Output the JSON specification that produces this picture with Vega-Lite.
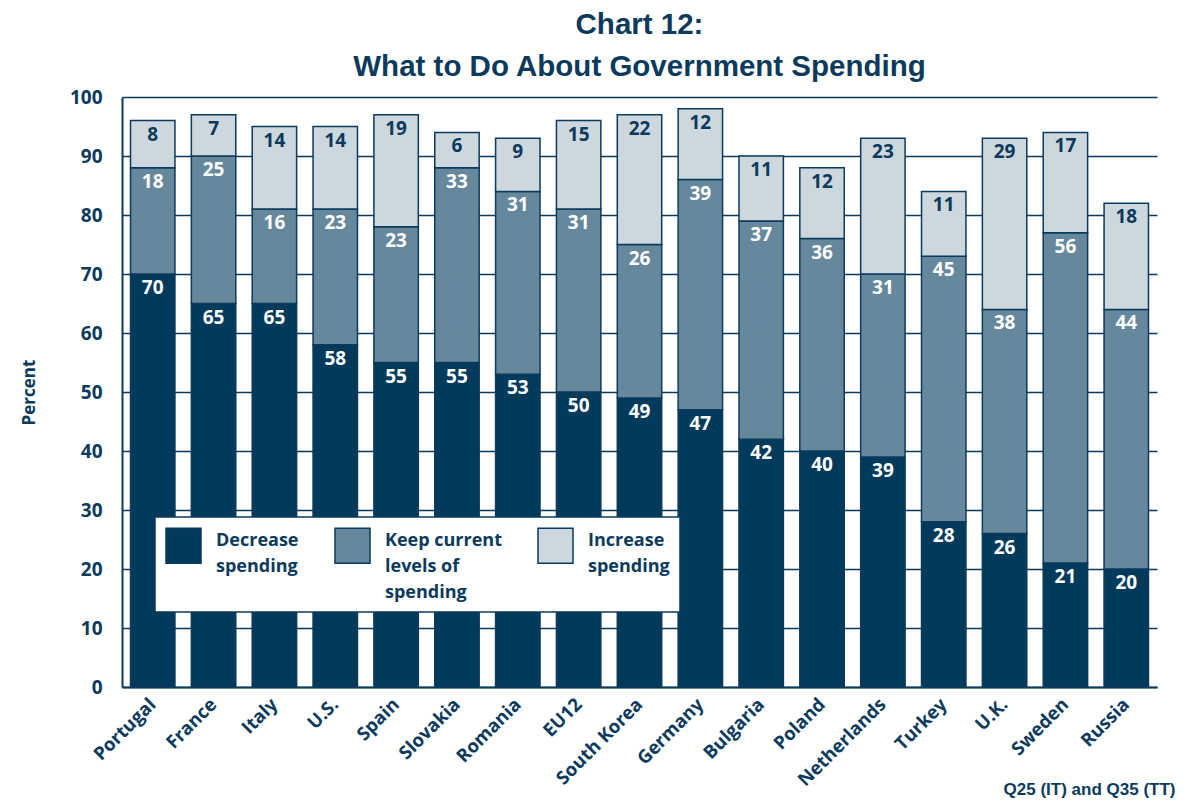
{
  "$schema": "https://vega.github.io/schema/vega-lite/v6.json",
  "autosize": {"type": "none"},
  "width": 1035,
  "height": 590,
  "padding": {"left": 122, "top": 97, "right": 31, "bottom": 121},
  "background": "white",
  "title": {
    "text": ["Chart 12:", "What to Do About Government Spending"],
    "font": "Liberation Sans",
    "fontSize": 29.5,
    "fontWeight": "bold",
    "color": "#0b3a5c",
    "lineHeight": 42,
    "anchor": "middle",
    "offset": 6
  },
  "data": {
    "values": [
      {"country": "Portugal", "response": "Decrease spending", "value": 70},
      {"country": "Portugal", "response": "Keep current levels of spending", "value": 18},
      {"country": "Portugal", "response": "Increase spending", "value": 8},
      {"country": "France", "response": "Decrease spending", "value": 65},
      {"country": "France", "response": "Keep current levels of spending", "value": 25},
      {"country": "France", "response": "Increase spending", "value": 7},
      {"country": "Italy", "response": "Decrease spending", "value": 65},
      {"country": "Italy", "response": "Keep current levels of spending", "value": 16},
      {"country": "Italy", "response": "Increase spending", "value": 14},
      {"country": "U.S.", "response": "Decrease spending", "value": 58},
      {"country": "U.S.", "response": "Keep current levels of spending", "value": 23},
      {"country": "U.S.", "response": "Increase spending", "value": 14},
      {"country": "Spain", "response": "Decrease spending", "value": 55},
      {"country": "Spain", "response": "Keep current levels of spending", "value": 23},
      {"country": "Spain", "response": "Increase spending", "value": 19},
      {"country": "Slovakia", "response": "Decrease spending", "value": 55},
      {"country": "Slovakia", "response": "Keep current levels of spending", "value": 33},
      {"country": "Slovakia", "response": "Increase spending", "value": 6},
      {"country": "Romania", "response": "Decrease spending", "value": 53},
      {"country": "Romania", "response": "Keep current levels of spending", "value": 31},
      {"country": "Romania", "response": "Increase spending", "value": 9},
      {"country": "EU12", "response": "Decrease spending", "value": 50},
      {"country": "EU12", "response": "Keep current levels of spending", "value": 31},
      {"country": "EU12", "response": "Increase spending", "value": 15},
      {"country": "South Korea", "response": "Decrease spending", "value": 49},
      {"country": "South Korea", "response": "Keep current levels of spending", "value": 26},
      {"country": "South Korea", "response": "Increase spending", "value": 22},
      {"country": "Germany", "response": "Decrease spending", "value": 47},
      {"country": "Germany", "response": "Keep current levels of spending", "value": 39},
      {"country": "Germany", "response": "Increase spending", "value": 12},
      {"country": "Bulgaria", "response": "Decrease spending", "value": 42},
      {"country": "Bulgaria", "response": "Keep current levels of spending", "value": 37},
      {"country": "Bulgaria", "response": "Increase spending", "value": 11},
      {"country": "Poland", "response": "Decrease spending", "value": 40},
      {"country": "Poland", "response": "Keep current levels of spending", "value": 36},
      {"country": "Poland", "response": "Increase spending", "value": 12},
      {"country": "Netherlands", "response": "Decrease spending", "value": 39},
      {"country": "Netherlands", "response": "Keep current levels of spending", "value": 31},
      {"country": "Netherlands", "response": "Increase spending", "value": 23},
      {"country": "Turkey", "response": "Decrease spending", "value": 28},
      {"country": "Turkey", "response": "Keep current levels of spending", "value": 45},
      {"country": "Turkey", "response": "Increase spending", "value": 11},
      {"country": "U.K.", "response": "Decrease spending", "value": 26},
      {"country": "U.K.", "response": "Keep current levels of spending", "value": 38},
      {"country": "U.K.", "response": "Increase spending", "value": 29},
      {"country": "Sweden", "response": "Decrease spending", "value": 21},
      {"country": "Sweden", "response": "Keep current levels of spending", "value": 56},
      {"country": "Sweden", "response": "Increase spending", "value": 17},
      {"country": "Russia", "response": "Decrease spending", "value": 20},
      {"country": "Russia", "response": "Keep current levels of spending", "value": 44},
      {"country": "Russia", "response": "Increase spending", "value": 18}
    ]
  },
  "transform": [
    {"calculate": "indexof(['Decrease spending','Keep current levels of spending','Increase spending'], datum.response)", "as": "rank"},
    {"stack": "value", "groupby": ["country"], "sort": [{"field": "rank", "order": "ascending"}], "as": ["y0", "y1"]}
  ],
  "encoding": {
    "x": {
      "field": "country",
      "type": "nominal",
      "sort": null,
      "scale": {"paddingInner": 0.27, "paddingOuter": 0.14},
      "axis": {
        "title": "Q25 (IT) and Q35 (TT)",
        "titleFont": "Liberation Sans",
        "titleFontSize": 17,
        "titleFontWeight": "bold",
        "titleColor": "#0b3a5c",
        "titleAnchor": "end",
        "titleAlign": "right",
        "titleBaseline": "alphabetic",
        "titleX": 1053,
        "titleY": 107,
        "labelAngle": -45,
        "labelAlign": "right",
        "labelBaseline": "middle",
        "labelFont": "Open Sans",
        "labelFontSize": 18.5,
        "labelFontWeight": "bold",
        "labelColor": "#0b3a5c",
        "labelPadding": 14,
        "ticks": false,
        "domainColor": "#0b3a5c",
        "domainWidth": 2,
        "grid": false
      }
    }
  },
  "layer": [
    {
      "mark": {"type": "bar", "stroke": "#0b3a5c", "strokeWidth": 1.5},
      "encoding": {
        "y": {
          "field": "y1",
          "type": "quantitative",
          "scale": {"domain": [0, 100], "nice": false},
          "axis": {
            "title": "Percent",
            "titleFont": "Open Sans",
            "titleFontSize": 17,
            "titleFontWeight": "bold",
            "titleColor": "#0b3a5c",
            "titlePadding": 30,
            "titleX": -84,
            "values": [0, 10, 20, 30, 40, 50, 60, 70, 80, 90, 100],
            "labelFont": "Open Sans",
            "labelFontSize": 19,
            "labelFontWeight": "bold",
            "labelColor": "#0b3a5c",
            "labelPadding": 20,
            "ticks": false,
            "domainColor": "#0b3a5c",
            "domainWidth": 2,
            "grid": true,
            "gridColor": "#0b3a5c",
            "gridWidth": 1.5,
            "gridOpacity": 1
          }
        },
        "y2": {"field": "y0"},
        "color": {
          "field": "response",
          "type": "nominal",
          "scale": {
            "domain": ["Decrease spending", "Keep current levels of spending", "Increase spending"],
            "range": ["#023a5b", "#66889d", "#cdd7de"]
          },
          "legend": {
            "orient": "none",
            "legendX": 33,
            "legendY": 420,
            "direction": "horizontal",
            "columns": 3,
            "title": null,
            "fillColor": "white",
            "strokeColor": "#0b3a5c",
            "padding": 10,
            "symbolType": "square",
            "symbolSize": 1225,
            "symbolStrokeColor": "#0b3a5c",
            "symbolStrokeWidth": 1.5,
            "symbolOpacity": 1,
            "labelFont": "Open Sans",
            "labelFontSize": 18,
            "labelFontWeight": "bold",
            "labelColor": "#0b3a5c",
            "labelBaseline": "alphabetic",
            "labelLimit": 200,
            "labelOffset": 14,
            "columnPadding": 33,
            "labelExpr": "datum.label == 'Decrease spending' ? ['Decrease', 'spending', ' '] : datum.label == 'Increase spending' ? ['Increase', 'spending', ' '] : ['Keep current', 'levels of', 'spending']",
            "encode": {
              "legend": {"update": {"strokeWidth": {"value": 1.5}}},
              "labels": {"update": {"lineHeight": {"value": 26}}}
            }
          }
        }
      }
    },
    {
      "mark": {"type": "text", "font": "Open Sans", "fontSize": 19, "fontWeight": "bold", "baseline": "middle", "dy": 14},
      "encoding": {
        "y": {"field": "y1", "type": "quantitative"},
        "text": {"field": "value", "type": "quantitative"},
        "color": {
          "condition": {"test": "datum.response == 'Increase spending'", "value": "#0b3a5c"},
          "value": "white"
        }
      }
    }
  ],
  "config": {
    "view": {"stroke": null}
  }
}
